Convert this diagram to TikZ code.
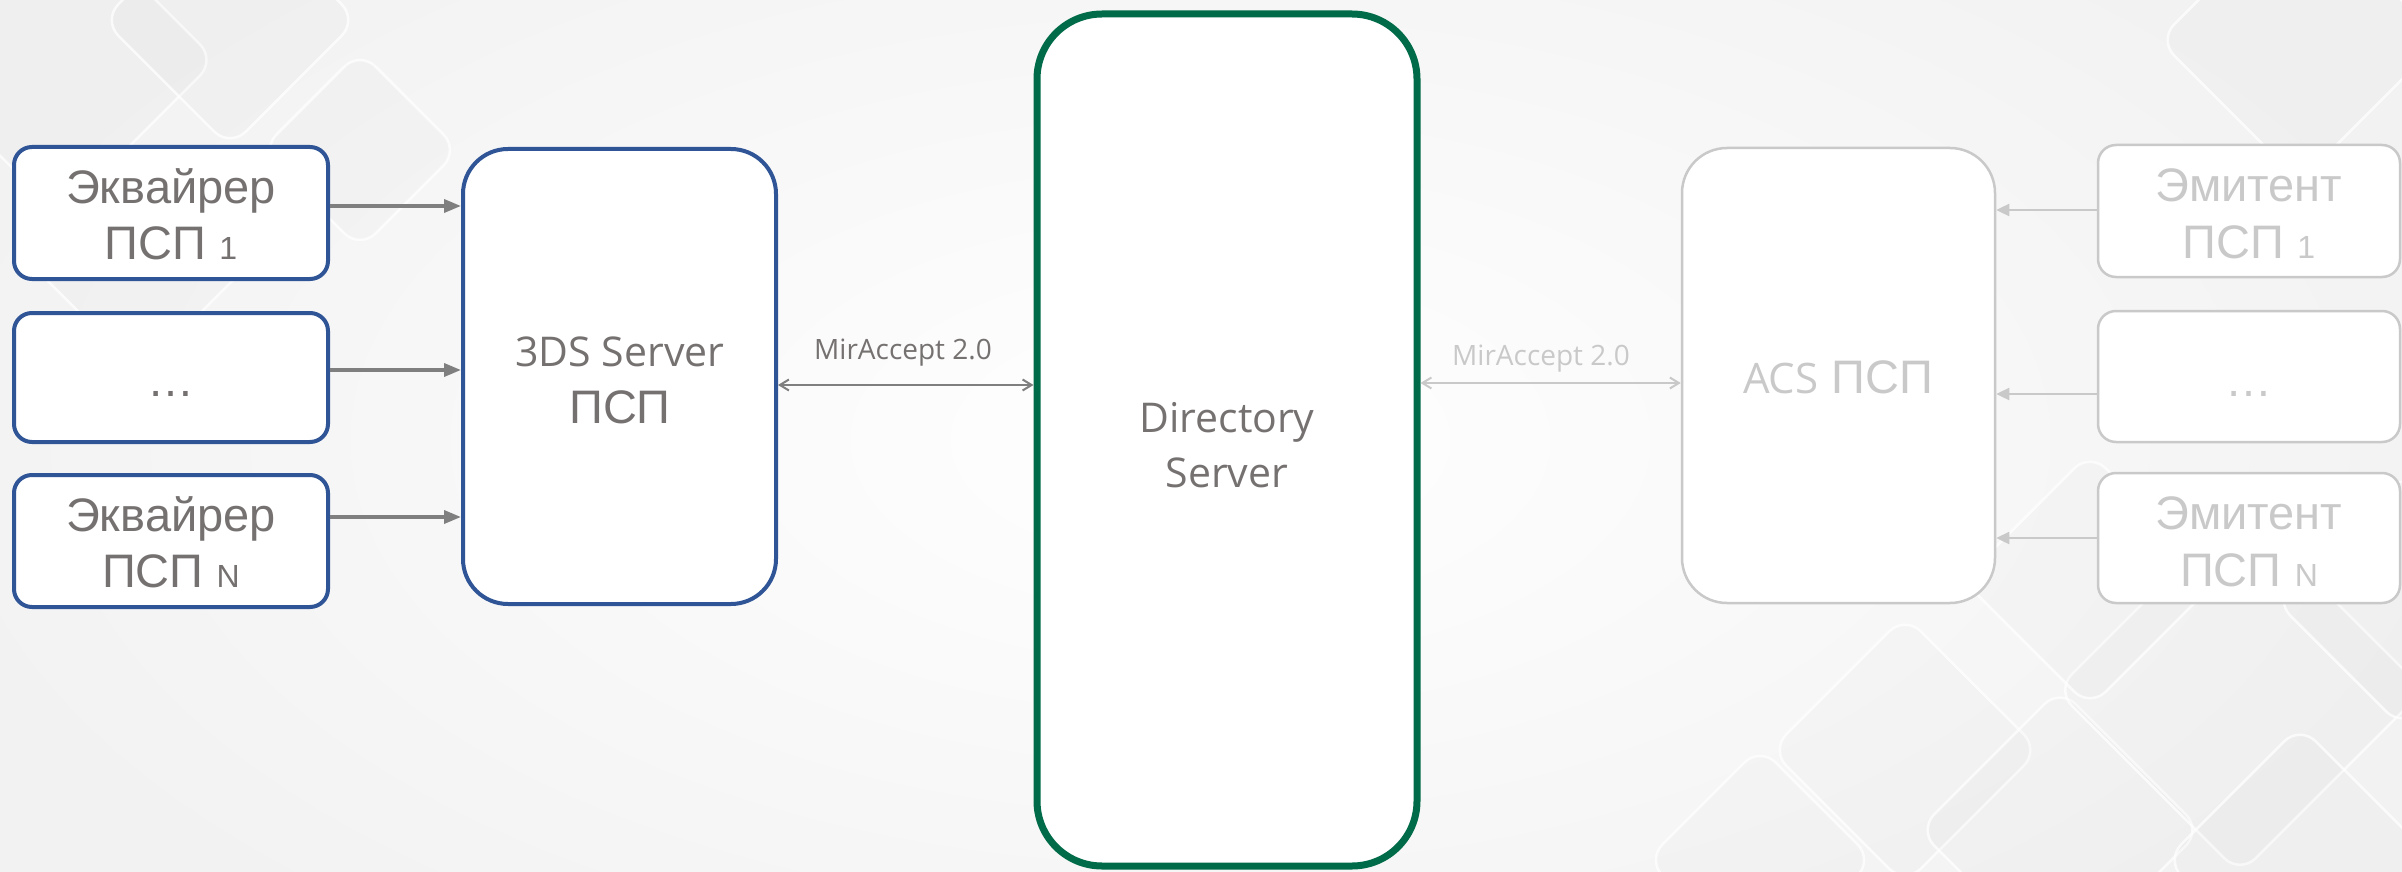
\documentclass[tikz,border=0pt]{standalone}
\usepackage{fontspec}
\setmainfont{Liberation Sans}
\newfontfamily\osans{Open Sans}
\usetikzlibrary{arrows.meta}

\definecolor{txt}{HTML}{767171}
\definecolor{dim}{HTML}{C9C9C9}
\definecolor{acqblue}{HTML}{2F5597}
\definecolor{dsgreen}{HTML}{006B48}
\definecolor{arr}{HTML}{7F7F7F}
\definecolor{bg}{HTML}{F2F2F2}

\begin{document}
\begin{tikzpicture}[x=1pt,y=-1pt,
  box/.style={draw, fill=white, inner sep=0pt, rounded corners=18pt,
    minimum width=314pt, minimum height=132pt},
  acqbox/.style={box, draw=acqblue, line width=4pt},
  issbox/.style={box, draw=dim, line width=2.5pt, minimum width=302pt},
  tallbox/.style={draw, fill=white, inner sep=0pt, rounded corners=45pt,
    minimum width=313pt, minimum height=455pt},
  lbl/.style={anchor=base, inner sep=0pt, text=txt,
    font=\fontsize{47pt}{56pt}\selectfont},
  dimlbl/.style={lbl, text=dim},
  oslbl/.style={anchor=base, inner sep=0pt, text=txt,
    font=\osans\fontsize{41pt}{49pt}\selectfont},
  proto/.style={anchor=base, inner sep=0pt, text=txt,
    font=\osans\fontsize{28pt}{34pt}\selectfont},
  feed/.style={draw=arr, line width=3.5pt, -{Triangle[length=17pt,width=13pt]}},
  issfeed/.style={draw=dim, line width=2.5pt, -{Triangle[length=13pt,width=12pt]}},
  link/.style={draw=arr, line width=2pt,
    {Straight Barb[length=9pt,width=11pt]}-{Straight Barb[length=9pt,width=11pt]}},
  deco/.style={draw=white, line width=2.5pt, draw opacity=0.75,
    fill=black, fill opacity=0.012, rounded corners=22pt}
]
\newcommand{\sm}[1]{{\fontsize{32pt}{36pt}\selectfont #1}}

% backdrop
\useasboundingbox (0,0) rectangle (2402,872);
\fill[bg] (0,0) rectangle (2402,872);
\shade[inner color=white, outer color=bg] (1200,440) ellipse (1300 and 650);

% faint diamond pattern
\draw[deco, shift={(60,60)}, rotate=45] (-110,-110) rectangle (110,110);
\draw[deco, shift={(230,20)}, rotate=45] (-90,-90) rectangle (90,90);
\draw[deco, shift={(140,260)}, rotate=45] (-80,-80) rectangle (80,80);
\draw[deco, shift={(360,150)}, rotate=45] (-70,-70) rectangle (70,70);
\draw[deco, shift={(2300,40)}, rotate=45] (-100,-100) rectangle (100,100);
\draw[deco, shift={(1905,750)}, rotate=45] (-95,-95) rectangle (95,95);
\draw[deco, shift={(2060,830)}, rotate=45] (-100,-100) rectangle (100,100);
\draw[deco, shift={(2240,690)}, rotate=45] (-130,-130) rectangle (130,130);
\draw[deco, shift={(2300,860)}, rotate=45] (-95,-95) rectangle (95,95);
\draw[deco, shift={(2090,580)}, rotate=45] (-90,-90) rectangle (90,90);
\draw[deco, shift={(2402,600)}, rotate=45] (-90,-90) rectangle (90,90);
\draw[deco, shift={(1760,860)}, rotate=45] (-80,-80) rectangle (80,80);

% acquirer side
\node[acqbox] (a1) at (171,213) {};
\node[acqbox, minimum height=129pt] (a2) at (171,377.5) {};
\node[acqbox] (a3) at (171,541) {};
\node[tallbox, draw=acqblue, line width=4pt] (s3) at (619.5,376.5) {};

% directory server
\node[draw=dsgreen, fill=white, line width=7pt, inner sep=0pt, rounded corners=65pt,
  minimum width=380pt, minimum height=852pt] (ds) at (1227,440) {};

% issuer side
\node[tallbox, draw=dim, line width=2.5pt] (acs) at (1838.5,375.5) {};
\node[issbox] (e1) at (2249,211) {};
\node[issbox, minimum height=131pt] (e2) at (2249,376.5) {};
\node[issbox, minimum height=130pt] (e3) at (2249,538) {};

% labels
\node[lbl] (a1t) at (171,203) {Эквайрер};
\node[lbl] (a1b) at (171,259) {ПСП \sm{1}};
\node[lbl] (a2t) at (171,396) {…};
\node[lbl] (a3t) at (171,531) {Эквайрер};
\node[lbl] (a3b) at (171,587) {ПСП \sm{N}};

\node[oslbl] (s3t) at (620,366) {3DS Server};
\node[lbl] (s3b) at (620,423) {ПСП};

\node[oslbl] (dst) at (1227,432) {Directory};
\node[oslbl] (dsb) at (1227,487) {Server};

\node[dimlbl] (acst) at (1838,393) {{\osans\fontsize{42pt}{50pt}\selectfont ACS} ПСП};

\node[dimlbl] (e1t) at (2249,201) {Эмитент};
\node[dimlbl] (e1b) at (2249,258) {ПСП \sm{1}};
\node[dimlbl] (e2t) at (2249,396) {…};
\node[dimlbl] (e3t) at (2249,529) {Эмитент};
\node[dimlbl] (e3b) at (2249,586) {ПСП \sm{N}};

\node[proto] (p1) at (903,359) {MirAccept 2.0};
\node[proto, text=dim] (p2) at (1541,365) {MirAccept 2.0};

% connectors
\draw[feed] ([yshift=7pt]a1.east) -- ([yshift=7pt]a1.east -| s3.west);
\draw[feed] ([yshift=7.5pt]a2.east) -- ([yshift=7.5pt]a2.east -| s3.west);
\draw[feed] ([yshift=24pt]a3.east) -- ([yshift=24pt]a3.east -| s3.west);

\draw[link] ([yshift=-8.5pt]s3.east) -- ([yshift=-8.5pt]s3.east -| ds.west);
\draw[link, draw=dim] ([yshift=-7.5pt]acs.west -| ds.east) -- ([yshift=-7.5pt]acs.west);

\draw[issfeed] ([yshift=1pt]e1.west) -- ([yshift=1pt]e1.west -| acs.east);
\draw[issfeed] ([yshift=-17.5pt]e2.west) -- ([yshift=-17.5pt]e2.west -| acs.east);
\draw[issfeed] (e3.west) -- (e3.west -| acs.east);
\end{tikzpicture}
\end{document}
